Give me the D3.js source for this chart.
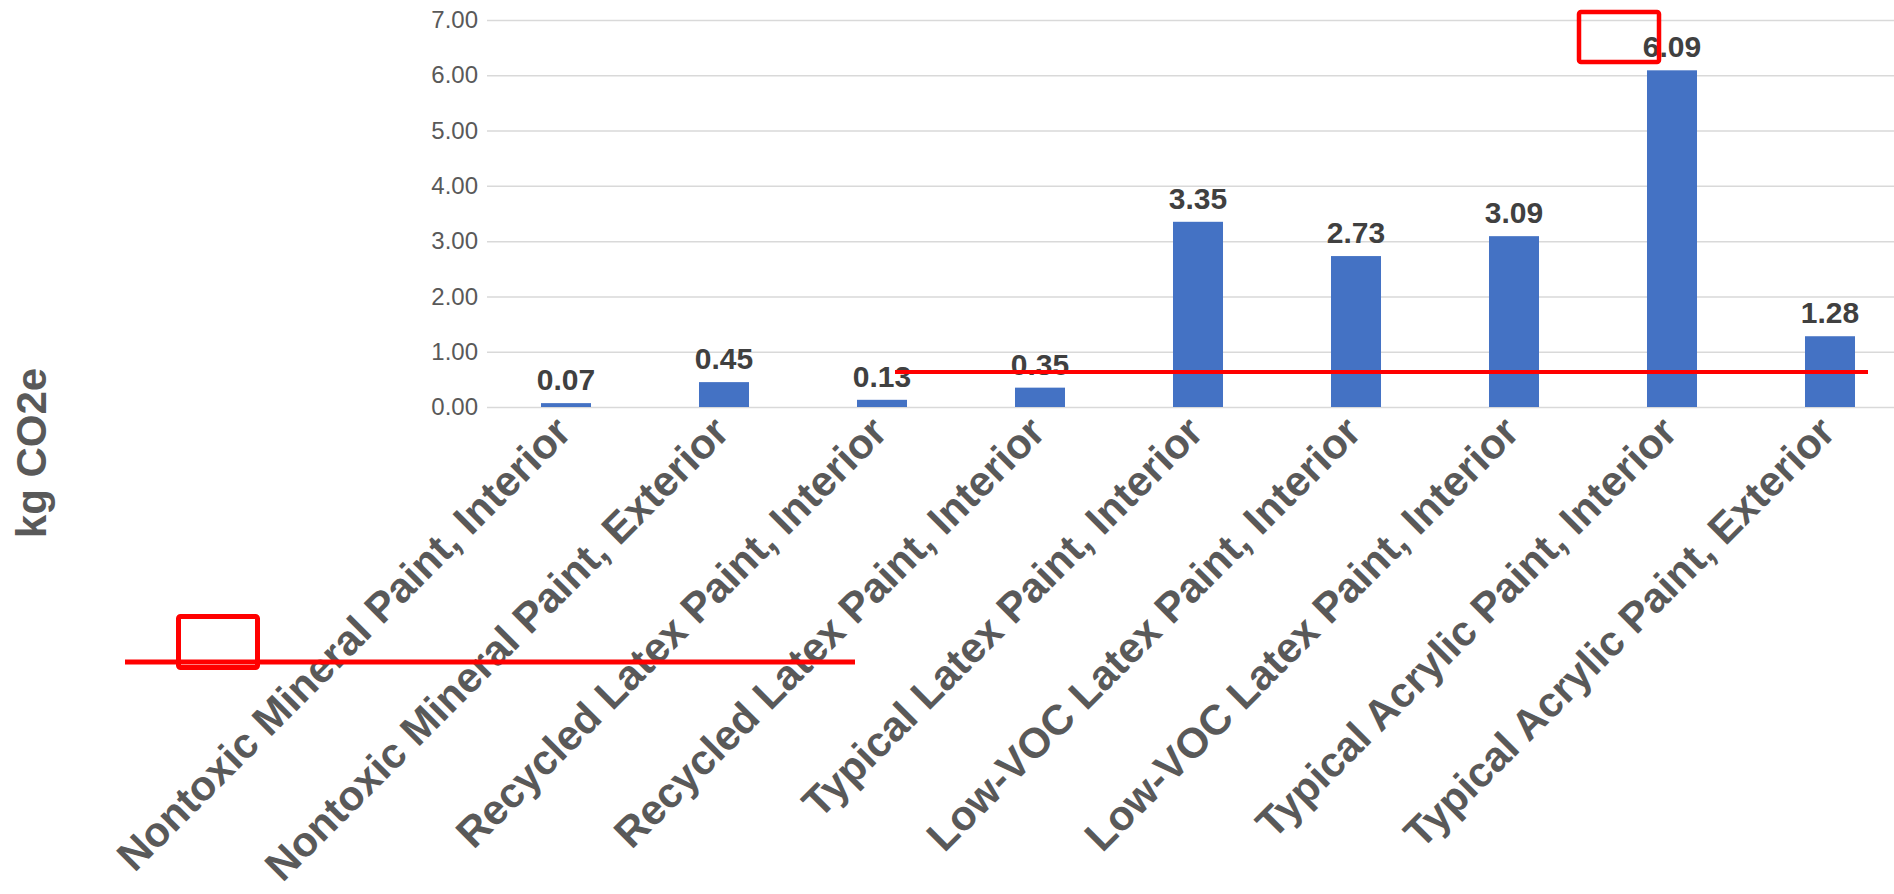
<!DOCTYPE html>
<html>
<head>
<meta charset="utf-8">
<script src="https://cdn.jsdelivr.net/npm/d3@7/dist/d3.min.js"></script>
<style>
  html, body { margin: 0; padding: 0; background: #fff; }
  svg { display: block; font-family: "Liberation Sans", Arial, sans-serif; }
</style>
</head>
<body>
<svg id="chart" width="1894" height="894"></svg>
<script>
// Embodied carbon per paint product
const categories = [
  "Nontoxic Mineral Paint, Interior",
  "Nontoxic Mineral Paint, Exterior",
  "Recycled Latex Paint, Interior",
  "Recycled Latex Paint, Interior",
  "Typical Latex Paint, Interior",
  "Low-VOC Latex Paint, Interior",
  "Low-VOC Latex Paint, Interior",
  "Typical Acrylic Paint, Interior",
  "Typical Acrylic Paint, Exterior"
];
const values = [0.07, 0.45, 0.13, 0.35, 3.35, 2.73, 3.09, 6.09, 1.28];
const yTicks = [0, 1, 2, 3, 4, 5, 6, 7];
const yTitle = "kg CO2e";

const svg = d3.select("#chart");

const plot = { left: 487, right: 1909, top: 20, bottom: 407 };

// Categories are indexed so repeated names keep their own slot
const x = d3.scaleBand()
  .domain(d3.range(categories.length))
  .range([plot.left, plot.right])
  .paddingInner(0.6835)
  .paddingOuter(0.6835 / 2);

const y = d3.scaleLinear()
  .domain([0, 7])
  .range([plot.bottom, plot.top]);

// Gridlines and value axis
const yAxis = d3.axisLeft(y)
  .tickValues(yTicks)
  .tickFormat(d3.format(".2f"))
  .tickSize(-(plot.right - plot.left))
  .tickPadding(9);

const gy = svg.append("g")
  .attr("transform", `translate(${plot.left},0)`)
  .call(yAxis);
gy.select(".domain").remove();
gy.selectAll(".tick line")
  .attr("stroke", "#d9d9d9")
  .attr("stroke-width", 1.5);
gy.selectAll(".tick text")
  .attr("fill", "#595959")
  .attr("font-size", 24)
  .attr("font-family", "'Liberation Sans', Arial, sans-serif");

// Bars
svg.append("g")
  .selectAll("rect")
  .data(values)
  .join("rect")
  .attr("x", (d, i) => x(i))
  .attr("y", d => y(d))
  .attr("width", x.bandwidth())
  .attr("height", d => y(0) - y(d))
  .attr("fill", "#4472c4");

// Value labels
svg.append("g")
  .selectAll("text")
  .data(values)
  .join("text")
  .attr("x", (d, i) => x(i) + x.bandwidth() / 2)
  .attr("y", d => y(d) - 13)
  .attr("text-anchor", "middle")
  .attr("font-size", 30)
  .attr("font-weight", "bold")
  .attr("fill", "#404040")
  .text(d => d3.format(".2f")(d));

// Category labels, rotated
svg.append("g")
  .selectAll("text")
  .data(categories)
  .join("text")
  .attr("transform", (d, i) => `translate(${x(i) + x.bandwidth() / 2 - 3},424) rotate(-45)`)
  .attr("text-anchor", "end")
  .attr("dy", "0.35em")
  .attr("font-size", 42)
  .attr("font-weight", "bold")
  .attr("fill", "#595959")
  .text(d => d);

// Value axis title
svg.append("text")
  .attr("transform", "translate(46,453) rotate(-90)")
  .attr("text-anchor", "middle")
  .attr("font-size", 42)
  .attr("font-weight", "bold")
  .attr("fill", "#595959")
  .text(yTitle);

// Red markup drawn over the chart
const marks = svg.append("g").attr("fill", "none").attr("stroke", "#ff0000");
marks.append("rect")
  .attr("x", 1579).attr("y", 12).attr("width", 80).attr("height", 50)
  .attr("rx", 2).attr("stroke-width", 4.5);
marks.append("line")
  .attr("x1", 895).attr("x2", 1868).attr("y1", 372).attr("y2", 372)
  .attr("stroke-width", 4);
marks.append("rect")
  .attr("x", 178.5).attr("y", 616.5).attr("width", 79).attr("height", 51)
  .attr("rx", 2).attr("stroke-width", 5);
marks.append("line")
  .attr("x1", 125).attr("x2", 855).attr("y1", 662).attr("y2", 662)
  .attr("stroke-width", 5);
</script>
</body>
</html>
